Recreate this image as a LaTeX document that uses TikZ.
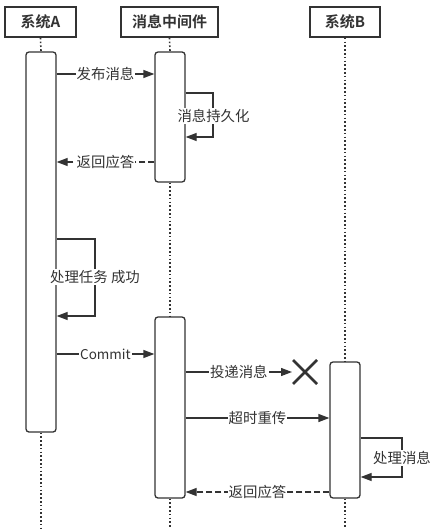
\documentclass[tikz,border=0pt]{standalone}
\usepackage{fontspec}
\setmainfont{Noto Sans CJK SC}
\newfontfamily\headfont{Noto Sans CJK SC Bold}
\usetikzlibrary{arrows.meta}
\definecolor{ink}{HTML}{333333}
\begin{document}
\begin{tikzpicture}[x=1pt,y=-1pt,
  every node/.style={font=\fontsize{14.4}{17}\selectfont, text=ink},
  head/.style={draw=ink, line width=1.6pt, minimum height=30pt, inner sep=0pt, font=\headfont\fontsize{15}{17}\selectfont},
  bar/.style={draw=ink, line width=1.3pt, rounded corners=3pt, fill=white, minimum width=30pt, inner sep=0pt},
  life/.style={draw=ink, line width=1.6pt, dash pattern=on 1.6pt off 2.2pt},
  msg/.style={draw=ink, line width=1.3pt, -{Triangle[length=11pt,width=8pt]}},
  reply/.style={msg, dash pattern=on 6pt off 3pt},
  lbl/.style={fill=white, inner sep=1pt},
  cross/.style={draw=ink, line width=2.8pt}]
\useasboundingbox (0,0) rectangle (438,529);
% headers
\node[head, minimum width=71pt] (hA) at (40.5,22) {系统A};
\node[head, minimum width=97pt] (hM) at (169.5,22) {消息中间件};
\node[head, minimum width=70pt] (hB) at (345,22) {系统B};
% bottoms of lifelines
\coordinate (eA) at (41,529);
\coordinate (eM) at (170,529);
\coordinate (eB) at (345,529);
% activation bars
\node[bar, minimum height=380pt] (aA) at (41,242) {};
\node[bar, minimum height=130pt] (m1) at (170,117) {};
\node[bar, minimum height=181pt] (m2) at (170,407.5) {};
\node[bar, minimum height=136pt] (b1) at (345,430) {};
% lifelines
\draw[life] (hA.south) -- (aA.north);
\draw[life] (aA.south) -- (eA);
\draw[life] (hM.south) -- (m1.north);
\draw[life] (m1.south) -- (m2.north);
\draw[life] (m2.south) -- (eM);
\draw[life] (hB.south) -- (b1.north);
\draw[life] (b1.south) -- (eB);
% messages
\draw[msg] (aA.east |- 0,74) -- node[lbl] {发布消息} (m1.west |- 0,74);
\coordinate (p1) at (213,93);
\coordinate (p2) at (213,137);
\draw[msg] (m1.east |- p1) -- (p1) -- (p2) -- (m1.east |- p2);
\node[lbl] (l1) at (213.5,116) {消息持久化};
\draw[reply] (m1.west |- 0,162) -- node[lbl] {返回应答} (aA.east |- 0,162);
\coordinate (q1) at (95,239);
\coordinate (q2) at (95,316);
\draw[msg] (aA.east |- q1) -- (q1) -- (q2) -- (aA.east |- q2);
\node[lbl] (l2) at (95,277) {处理任务 成功};
\draw[msg] (aA.east |- 0,354) -- node[lbl, font=\fontsize{13.5}{16}\selectfont] {Commit} (m2.west |- 0,354);
\coordinate (lost) at (305,372);
\draw[msg] (m2.east |- lost) -- node[lbl] {投递消息} ([xshift=-13pt]lost);
\draw[cross] ([shift={(-12,-12)}]lost) -- ([shift={(12,12)}]lost);
\draw[cross] ([shift={(-12,12)}]lost) -- ([shift={(12,-12)}]lost);
\draw[msg] (m2.east |- 0,418) -- node[lbl] {超时重传} (b1.west |- 0,418);
\coordinate (r1) at (402,438);
\coordinate (r2) at (402,477);
\draw[msg] (b1.east |- r1) -- (r1) -- (r2) -- (b1.east |- r2);
\node[lbl] (l3) at (402,458) {处理消息};
\draw[reply] (b1.west |- 0,492) -- node[lbl] {返回应答} (m2.east |- 0,492);
\end{tikzpicture}
\end{document}
